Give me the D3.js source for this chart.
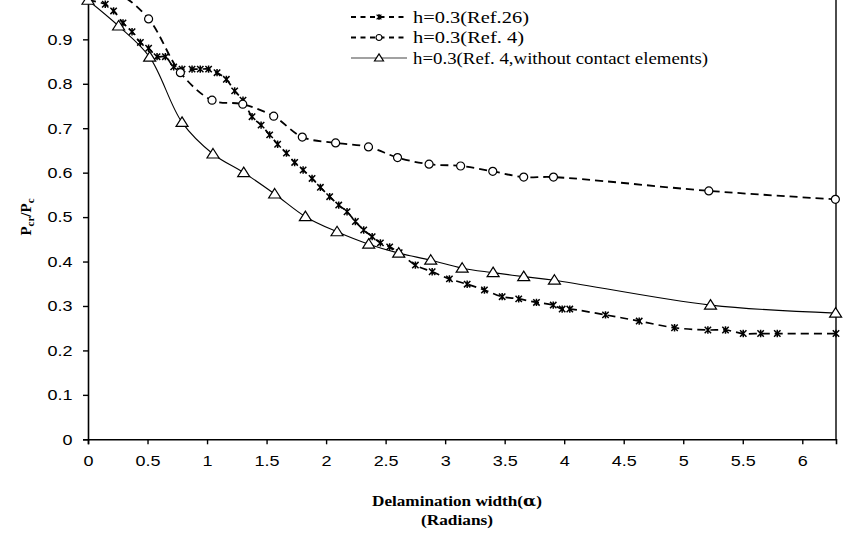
<!doctype html>
<html>
<head>
<meta charset="utf-8" />
<title>Pcr/Pc vs delamination width</title>
<script src="https://cdn.jsdelivr.net/npm/d3@7"></script>
<style>
  html,body{margin:0;background:#fff}
  svg{display:block}
  .axis path,.axis line{stroke:#000}
  .legend text{font-family:"Liberation Serif","Times New Roman",serif;font-size:17px}
  .title{font-family:"Liberation Serif","Times New Roman",serif;font-weight:bold;font-size:14px}
</style>
</head>
<body>
<svg id="chart" width="845" height="533"></svg>
<script>
// series: h=0.3 (Ref.26), stars
const refX26 = [0, 0.145, 0.215, 0.294, 0.37, 0.44, 0.509, 0.58, 0.65, 0.72, 0.79, 0.874, 0.943, 1.013,
  1.084, 1.162, 1.232, 1.302, 1.378, 1.454, 1.526, 1.593, 1.667, 1.736, 1.807, 1.882, 1.952, 2.03,
  2.106, 2.176, 2.246, 2.316, 2.387, 2.456, 2.534, 2.614, 2.75, 2.891, 3.036, 3.185, 3.33, 3.479,
  3.618, 3.767, 3.908, 3.983, 4.047, 4.347, 4.63, 4.927, 5.207, 5.355, 5.504, 5.65, 5.79, 6.283];
const refY26 = [0.988, 0.979, 0.964, 0.937, 0.917, 0.893, 0.88, 0.861, 0.861, 0.838, 0.833, 0.833, 0.833, 0.833,
  0.825, 0.81, 0.784, 0.763, 0.726, 0.707, 0.685, 0.664, 0.644, 0.623, 0.606, 0.587, 0.567, 0.546,
  0.527, 0.512, 0.49, 0.471, 0.456, 0.442, 0.433, 0.42, 0.392, 0.377, 0.361, 0.349, 0.336, 0.321,
  0.316, 0.308, 0.302, 0.293, 0.293, 0.28, 0.266, 0.251, 0.246, 0.246, 0.238, 0.238, 0.238, 0.238];

// series: h=0.3 (Ref. 4), circles
const ref4X = [0, 0.26, 0.509, 0.776, 1.042, 1.3, 1.56, 1.8, 2.08, 2.356, 2.6, 2.865, 3.13, 3.4, 3.66, 3.91, 5.215, 6.278];
const ref4Y = [1.0, 1.0, 0.946, 0.825, 0.763, 0.754, 0.727, 0.68, 0.667, 0.658, 0.634, 0.619, 0.615, 0.603, 0.59, 0.59, 0.559, 0.54];

// series: h=0.3 (Ref. 4, without contact elements), triangles
const noContactX = [0, 0.257, 0.518, 0.79, 1.05, 1.308, 1.568, 1.826, 2.092, 2.358, 2.61, 2.879, 3.143, 3.403, 3.66, 3.918, 5.229, 6.28];
const noContactY = [0.988, 0.93, 0.86, 0.713, 0.642, 0.6, 0.552, 0.501, 0.467, 0.439, 0.419, 0.403, 0.385, 0.375, 0.366, 0.358, 0.302, 0.284];

const xTicks = [0, 0.5, 1, 1.5, 2, 2.5, 3, 3.5, 4, 4.5, 5, 5.5, 6];
const yTicks = [0, 0.1, 0.2, 0.3, 0.4, 0.5, 0.6, 0.7, 0.8, 0.9];
const legendLabels = ["h=0.3(Ref.26)", "h=0.3(Ref. 4)", "h=0.3(Ref. 4,without contact elements)"];

const svg = d3.select("#chart");
const plotL = 88, plotR = 836, plotB = 439.3, plotT = -5.1;
const stretch = 1.2; // tick labels in the source look horizontally widened

const x = d3.scaleLinear().domain([0, 2 * Math.PI]).range([plotL, plotR]);
const y = d3.scaleLinear().domain([0, 1]).range([plotB, plotT]);

function tickText(sel) {
  sel.selectAll(".tick text")
    .style("font-family", '"Liberation Sans", Arial, sans-serif')
    .style("font-size", "15px").attr("fill", "#000");
}

// axes
svg.append("g").attr("class", "axis")
  .attr("transform", `translate(0,${plotB})`)
  .call(d3.axisBottom(x).tickValues(xTicks).tickSize(5).tickPadding(11).tickFormat(d3.format("")))
  .call(g => g.select(".domain").attr("stroke-width", 1.6))
  .call(g => g.selectAll(".tick line").attr("stroke-width", 1.4))
  .call(tickText)
  .call(g => g.selectAll(".tick text").attr("transform", `scale(${stretch},1)`));

svg.append("g").attr("class", "axis")
  .attr("transform", `translate(${plotL},0)`)
  .call(d3.axisLeft(y).tickValues(yTicks).tickSize(5).tickPadding(9).tickFormat(d3.format("")))
  .call(g => g.select(".domain").attr("stroke-width", 1.6))
  .call(g => g.selectAll(".tick line").attr("stroke-width", 1.4))
  .call(tickText)
  .call(g => g.selectAll(".tick text").attr("x", -15.5 / stretch).attr("transform", `scale(${stretch},1)`));

// right border of plot area
svg.append("line")
  .attr("x1", plotR).attr("x2", plotR).attr("y1", plotT).attr("y2", plotB)
  .attr("stroke", "#000").attr("stroke-width", 1.4);

const zip = (xs, ys) => xs.map((v, i) => [v, ys[i]]);
const line = d3.line().x(d => x(d[0])).y(d => y(d[1])).curve(d3.curveCatmullRom.alpha(0.5));

/* marker drawers */
function star(g, r, w) {
  g.append("path")
    .attr("d", `M${-r},${-r}L${r},${r}M${-r},${r}L${r},${-r}M0,${-r - 0.5}L0,${r + 0.5}`)
    .attr("stroke", "#000").attr("stroke-width", w).attr("fill", "none");
}
function circ(g, r) {
  g.append("circle").attr("r", r).attr("fill", "#fff").attr("stroke", "#000").attr("stroke-width", 1.2);
}
function tri(g, s) {
  g.append("path").attr("d", `M0,${-5.5 * s}L${6 * s},${4 * s}L${-6 * s},${4 * s}Z`)
    .attr("fill", "#fff").attr("stroke", "#000").attr("stroke-width", 1.2);
}

const series = [
  {data: zip(refX26, refY26), dash: "8,5", width: 1.7, marker: g => star(g, 3.2, 1.5), legend: g => star(g, 2.4, 1.3)},
  {data: zip(ref4X, ref4Y), dash: "8,5", width: 1.8, marker: g => circ(g, 4), legend: g => circ(g, 3)},
  {data: zip(noContactX, noContactY), dash: null, width: 1.1, marker: g => tri(g, 1), legend: g => tri(g, 0.75)}
];

const plot = svg.append("g");
series.forEach(s => {
  plot.append("path").datum(s.data)
    .attr("d", line).attr("fill", "none").attr("stroke", "#000")
    .attr("stroke-width", s.width).attr("stroke-dasharray", s.dash);
});
series.forEach(s => {
  plot.selectAll(null).data(s.data).enter().append("g")
    .attr("transform", d => `translate(${x(d[0])},${y(d[1])})`)
    .each(function() { s.marker(d3.select(this)); });
});

// legend
const legend = svg.append("g").attr("class", "legend");
const legendWidths = [116, 111, 295];
legendLabels.forEach((lab, i) => {
  const ly = 17 + i * 20.5;
  const row = legend.append("g");
  row.append("line").attr("x1", 351).attr("x2", 407).attr("y1", ly).attr("y2", ly)
    .attr("stroke", i === 2 ? "#444" : "#000").attr("stroke-width", i === 2 ? 1.2 : 1.8)
    .attr("stroke-dasharray", i === 2 ? null : "5,4.5");
  series[i].legend(row.append("g").attr("transform", `translate(379,${ly})`));
  row.append("text").attr("x", 413).attr("y", ly + 5.5)
    .attr("textLength", legendWidths[i]).attr("lengthAdjust", "spacingAndGlyphs").text(lab);
});

// axis titles
const xt = svg.append("text").attr("class", "title").attr("text-anchor", "middle")
  .attr("x", 457).attr("y", 506).attr("textLength", 170).attr("lengthAdjust", "spacingAndGlyphs");
xt.append("tspan").text("Delamination width(");
xt.append("tspan").style("font-family", "DejaVu Serif").text("α");
xt.append("tspan").text(")");
svg.append("text").attr("class", "title").attr("text-anchor", "middle")
  .attr("x", 457).attr("y", 525).attr("textLength", 72).attr("lengthAdjust", "spacingAndGlyphs").text("(Radians)");

const yt = svg.append("text").attr("class", "title").attr("text-anchor", "middle")
  .attr("transform", "translate(31,217) rotate(-90)").style("font-size", "15px");
yt.append("tspan").text("P");
yt.append("tspan").attr("dy", 3).style("font-size", "11px").text("cr");
yt.append("tspan").attr("dy", -3).text("/P");
yt.append("tspan").attr("dy", 3).style("font-size", "11px").text("c");
</script>
</body>
</html>
